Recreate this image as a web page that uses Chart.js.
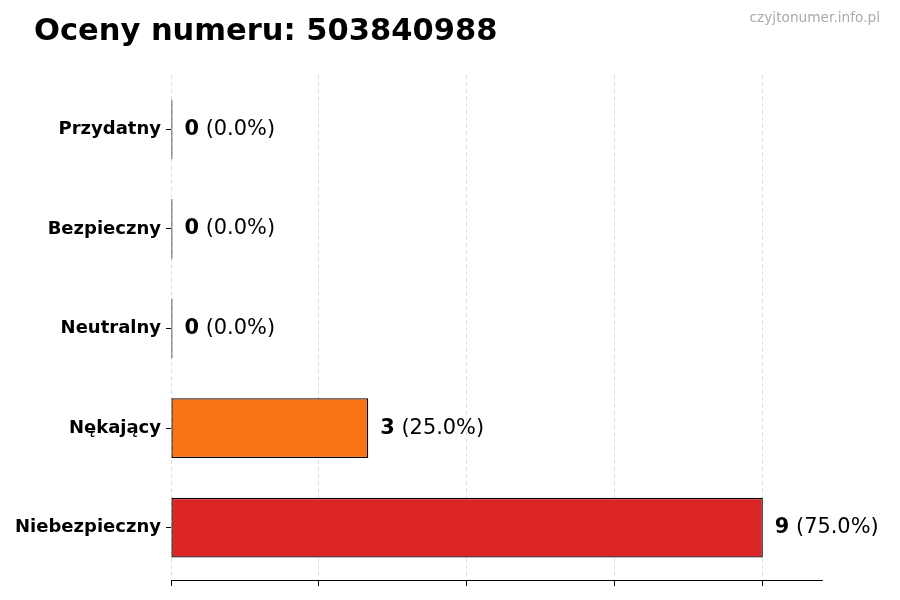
<!DOCTYPE html>
<html>
<head>
<meta charset="utf-8">
<title>Oceny numeru</title>
<script src="https://cdn.jsdelivr.net/npm/chart.js@4/dist/chart.umd.min.js"></script>
<style>
	body { margin: 0; background: #fff; }
	#wrap { width: 900px; height: 600px; }
</style>
</head>
<body>
<div id="wrap"><canvas id="ratingsChart" width="900" height="600"></canvas></div>
<script>
const titleText = 'Oceny numeru: 503840988';
const watermark = 'czyjtonumer.info.pl';
const categories = ['Przydatny', 'Bezpieczny', 'Neutralny', 'Nękający', 'Niebezpieczny'];
const counts = [0, 0, 0, 3, 9];
const barColors = ['#16a34a', '#2563eb', '#9ca3af', '#f97316', '#dc2626'];
const xTicks = [0, 2.25, 4.5, 6.75, 9];
const xMax = 9.9;

const FONT = "'DejaVu Sans', 'Liberation Sans', sans-serif";
Chart.defaults.font.family = FONT;
Chart.defaults.color = '#000';

const total = counts.reduce((a, b) => a + b, 0);
// bars sit on a numeric row axis so the margins match the original
const points = counts.map((v, i) => ({ x: v, y: i }));

// title + watermark on top of the canvas
const headerPlugin = {
	id: 'header',
	afterDraw(chart) {
		const ctx = chart.ctx;
		ctx.save();
		ctx.textBaseline = 'alphabetic';
		ctx.fillStyle = '#000';
		ctx.textAlign = 'left';
		ctx.font = 'bold 30.5px ' + FONT;
		ctx.fillText(titleText, 34, 40);
		ctx.fillStyle = '#aaaaaa';
		ctx.textAlign = 'right';
		ctx.font = '13.7px ' + FONT;
		ctx.fillText(watermark, 880, 22);
		ctx.restore();
	}
};

// "N (xx.x%)" next to every bar
const valueLabels = {
	id: 'valueLabels',
	afterDatasetsDraw(chart) {
		const ctx = chart.ctx;
		const meta = chart.getDatasetMeta(0);
		ctx.save();
		ctx.textBaseline = 'middle';
		ctx.textAlign = 'left';
		ctx.fillStyle = '#000';
		meta.data.forEach(function(bar, i) {
			const v = counts[i];
			const pct = total ? (v / total * 100).toFixed(1) : '0.0';
			let x = bar.x + 12;
			ctx.font = 'bold 20.9px ' + FONT;
			const num = String(v);
			ctx.fillText(num, x, bar.y);
			x += ctx.measureText(num).width;
			ctx.font = '20.9px ' + FONT;
			ctx.fillText(' (' + pct + '%)', x, bar.y);
		});
		ctx.restore();
	}
};

const ctx = document.getElementById('ratingsChart').getContext('2d');
const chart = new Chart(ctx, {
	type: 'bar',
	data: {
		datasets: [
			{
				data: points,
				backgroundColor: barColors,
				borderColor: '#000',
				borderWidth: 1.3,
				borderSkipped: false,
				minBarLength: 1.5,
				barPercentage: 0.6,
				categoryPercentage: 1.0
			}
		]
	},
	options: {
		indexAxis: 'y',
		responsive: false,
		animation: false,
		devicePixelRatio: 1,
		layout: {
			padding: { top: 75, right: 78, bottom: 0, left: 0 }
		},
		plugins: {
			legend: { display: false },
			tooltip: { enabled: false },
			title: { display: false }
		},
		scales: {
			x: {
				type: 'linear',
				min: 0,
				max: xMax,
				afterBuildTicks: function(scale) {
					scale.ticks = xTicks.map(v => ({ value: v }));
				},
				afterFit: function(scale) {
					scale.height = 20;
				},
				ticks: { display: false },
				grid: {
					color: '#d4d4d4',
					lineWidth: 0.8,
					drawTicks: true,
					tickLength: 6,
					tickColor: '#000',
					tickWidth: 1,
					tickBorderDash: []
				},
				border: {
					display: true,
					color: '#000',
					width: 1,
					dash: [4, 3]
				}
			},
			y: {
				type: 'linear',
				reverse: true,
				min: -0.545,
				max: categories.length - 1 + 0.525,
				offset: false,
				afterBuildTicks: function(scale) {
					scale.ticks = categories.map((c, i) => ({ value: i }));
				},
				afterFit: function(scale) {
					scale.width = 171;
				},
				ticks: {
					padding: 5,
					font: { size: 18, weight: 'bold' },
					color: '#000',
					callback: function(value) {
						return categories[value];
					}
				},
				grid: {
					display: true,
					offset: false,
					drawOnChartArea: false,
					drawTicks: true,
					tickLength: 5,
					tickColor: '#000',
					tickWidth: 1
				},
				border: { display: false }
			}
		}
	},
	plugins: [headerPlugin, valueLabels]
});
</script>
</body>
</html>
